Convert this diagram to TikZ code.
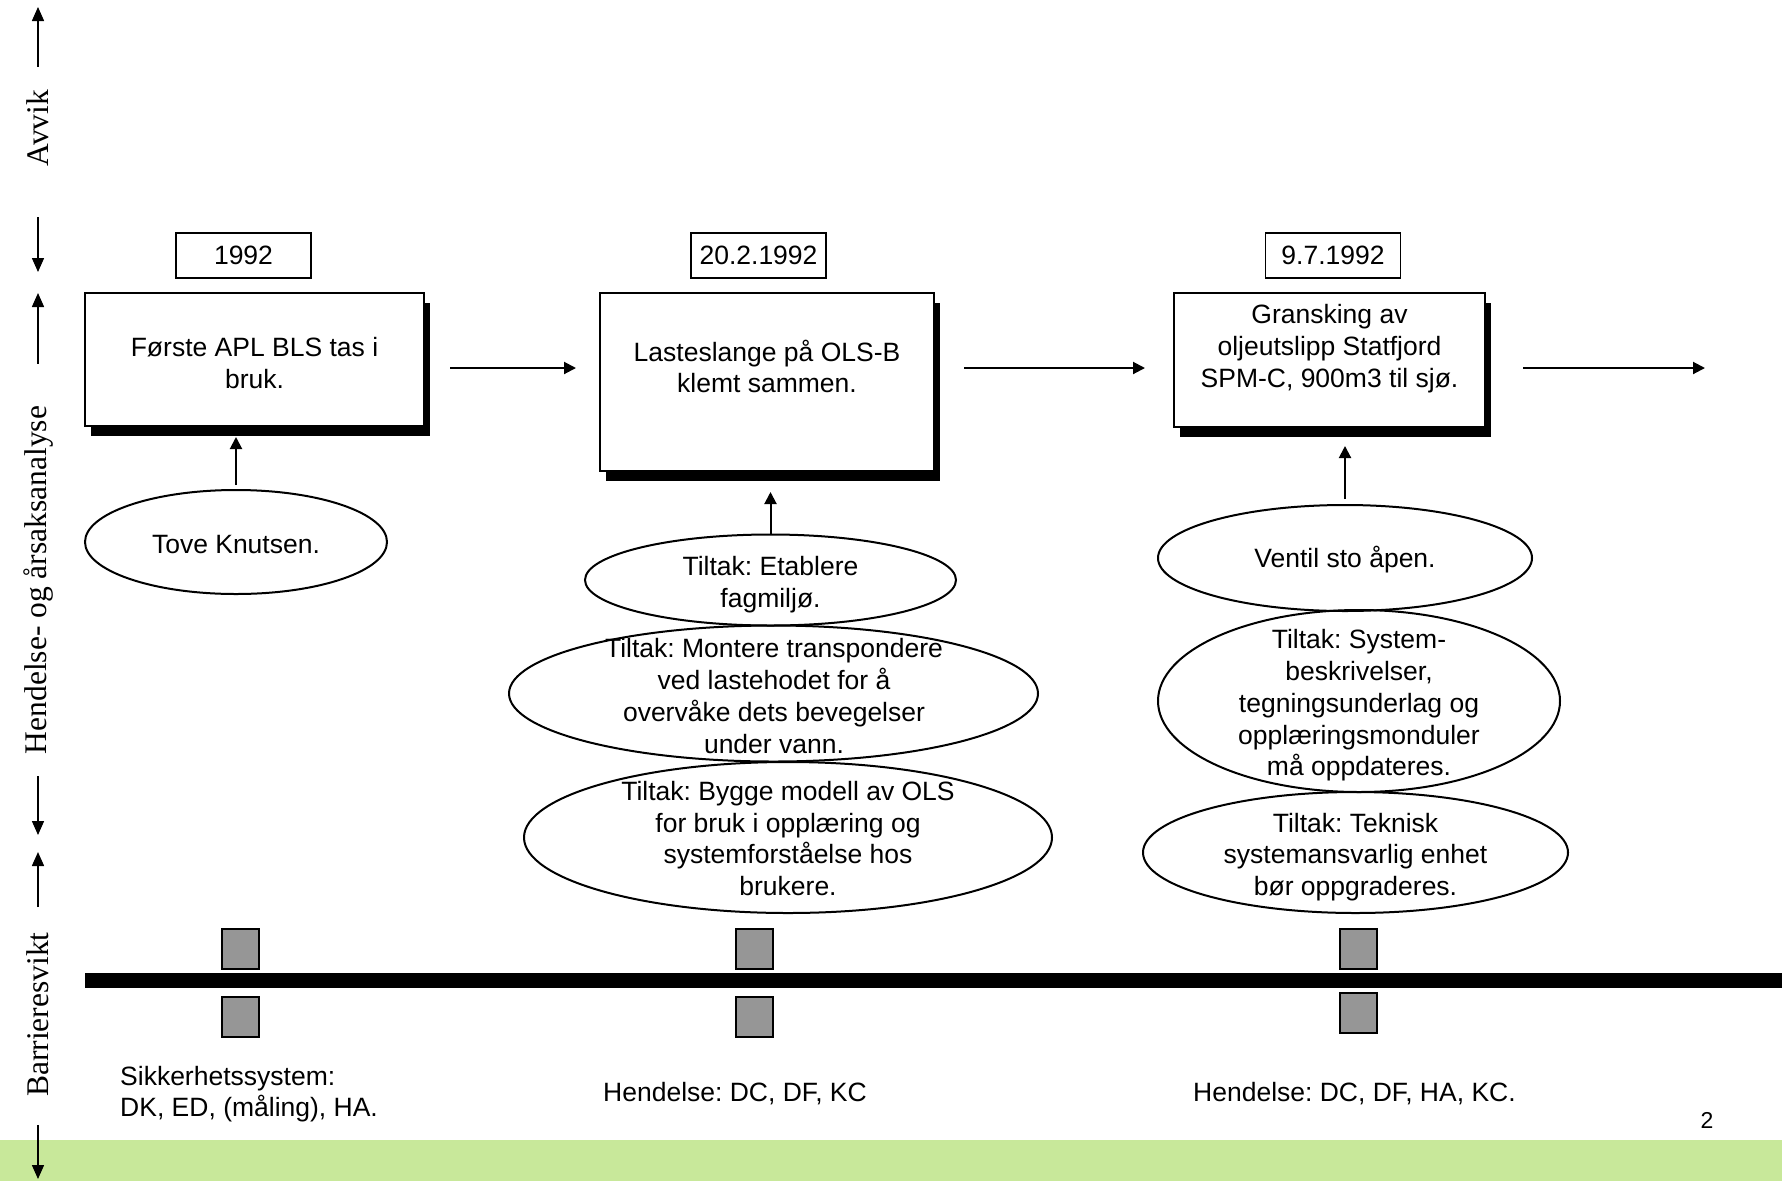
\documentclass[tikz,border=0pt]{standalone}
\usepackage{fontspec}
\setmainfont{Liberation Sans}
\newfontfamily\axisserif{Liberation Serif}
\usetikzlibrary{shapes.geometric, arrows.meta, shadows}

\definecolor{bandgreen}{RGB}{200,232,154}
\definecolor{barriergray}{RGB}{150,150,150}
\frenchspacing

\begin{document}
\begin{tikzpicture}[
    x=1pt, y=-1pt,
    txt/.style={font=\fontsize{26.5}{31.7}\selectfont, align=center, inner sep=0pt},
    datebox/.style={rectangle, draw, line width=1.8pt, minimum width=135pt, minimum height=45pt, font=\fontsize{26.5}{31.7}\selectfont},
    eventbox/.style={rectangle, draw, line width=2pt, fill=white, drop shadow={shadow xshift=6pt, shadow yshift=-10pt, fill=black, opacity=1}},
    cause/.style={ellipse, draw, line width=2pt, inner sep=0pt},
    barrier/.style={rectangle, draw, line width=2pt, fill=barriergray, minimum width=37pt, minimum height=40pt, inner sep=0pt},
    axislabel/.style={rotate=90, inner sep=0pt, font=\axisserif\fontsize{31.5}{36}\selectfont},
    arrow/.style={-{Triangle[length=12pt, width=12pt]}, line width=2pt},
    axisarrow/.style={-{Triangle[length=14pt, width=12pt]}, line width=1.5pt}
]
\useasboundingbox (0,0) rectangle (1782,1181);

% Green band
\fill[bandgreen] (0,1140) rectangle (1782,1181);

% Left axis
\node[axislabel] (avvik) at (38,128) {Avvik};
\node[axislabel] (analyse) at (38,580) {Hendelse- og årsaksanalyse};
\node[axislabel] (svikt) at (38,1014.5) {Barrieresvikt};
\coordinate (avvikTop) at (38,7);
\coordinate (avvikBot) at (38,272);
\coordinate (analyseTop) at (38,293);
\coordinate (analyseBot) at (38,835);
\coordinate (sviktTop) at (38,852);
\coordinate (sviktBot) at (38,1179);

\draw[axisarrow, shorten <=23pt] (avvik) -- (avvikTop);
\draw[axisarrow, shorten <=51pt] (avvik) -- (avvikBot);
\draw[axisarrow, shorten <=42pt] (analyse) -- (analyseTop);
\draw[axisarrow, shorten <=22pt] (analyse) -- (analyseBot);
\draw[axisarrow, shorten <=25pt] (svikt) -- (sviktTop);
\draw[axisarrow, shorten <=28pt] (svikt) -- (sviktBot);

% Dates
\node[datebox] (date1) at (243.5,255.5) {1992};
\node[datebox] (date2) at (758.5,255.5) {20.2.1992};
\node[datebox] (date3) at (1333,255.5) {9.7.1992};

% Events
\node[eventbox, minimum width=339pt, minimum height=133pt] (ev1) at (254.5,359.5) {};
\node[txt] (ev1txt) at (254.5,363) {Første APL BLS tas i\\bruk.};
\node[eventbox, minimum width=334pt, minimum height=178pt] (ev2) at (767,382) {};
\node[txt] (ev2txt) at (767,366.5) {Lasteslange på OLS-B\\klemt sammen.};
\node[eventbox, minimum width=311pt, minimum height=134pt] (ev3) at (1329.5,360) {};
\node[txt] (ev3txt) at (1329.5,348.5) {Gransking av\\oljeutslipp Statfjord\\SPM-C, 900m3 til sjø.};
\coordinate (next) at (1705,368);

\draw[arrow] ([xshift=25pt,yshift=-8.5pt]ev1.east) -- ([xshift=-23pt,yshift=14pt]ev2.west);
\draw[arrow] ([xshift=29pt,yshift=14pt]ev2.east) -- ([xshift=-28pt,yshift=-8pt]ev3.west);
\draw[arrow] ([xshift=37pt,yshift=-8pt]ev3.east) -- (next);

% Causes and measures
\node[cause, minimum width=302pt, minimum height=104pt] (c1) at (236,542) {};
\node[txt] (c1txt) at (236,544.5) {Tove Knutsen.};

\node[cause, minimum width=371pt, minimum height=91pt] (t21) at (770.5,580) {};
\node[txt] (t21txt) at (770.5,584.5) {Tiltak: Etablere\\fagmiljø.};
\node[cause, minimum width=529pt, minimum height=136pt] (t22) at (773.5,693.5) {};
\node[txt] (t22txt) at (774,696) {Tiltak: Montere transpondere\\ved lastehodet for å\\overvåke dets bevegelser\\under vann.};
\node[cause, minimum width=528pt, minimum height=151pt] (t23) at (788,837.5) {};
\node[txt] (t23txt) at (788,838.5) {Tiltak: Bygge modell av OLS\\for bruk i opplæring og\\systemforståelse hos\\brukere.};

\node[cause, minimum width=374pt, minimum height=106pt] (c3) at (1345,558) {};
\node[txt] (c3txt) at (1345,560) {Ventil sto åpen.};
\node[cause, minimum width=402pt, minimum height=182pt] (t31) at (1359,701) {};
\node[txt] (t31txt) at (1359,705.5) {Tiltak: System-\\beskrivelser,\\tegningsunderlag og\\opplæringsmonduler\\må oppdateres.};
\node[cause, minimum width=425pt, minimum height=121pt] (t32) at (1355.5,852.5) {};
\node[txt] (t32txt) at (1355.5,857) {Tiltak: Teknisk\\systemansvarlig enhet\\bør oppgraderes.};

\draw[arrow, shorten <=4pt, shorten >=10pt] (c1.north) -- (c1.north |- ev1.south);
\draw[arrow, shorten >=20pt] (t21.north) -- (t21.north |- ev2.south);
\draw[arrow, shorten <=5pt, shorten >=18pt] (c3.north) -- (c3.north |- ev3.south);

% Barrier line
\fill (85,973) rectangle (1782,988);
\node[barrier] (b1u) at (240,948.5) {};
\node[barrier] (b1l) at (240,1016.5) {};
\node[barrier] (b2u) at (754,948.5) {};
\node[barrier] (b2l) at (754,1016.5) {};
\node[barrier] (b3u) at (1358.5,948.5) {};
\node[barrier] (b3l) at (1358.5,1012.5) {};

% Barrier texts
\node[txt, anchor=west, align=left] (s1) at (120,1094) {Sikkerhetssystem:\\DK, ED, (måling), HA.};
\node[txt, anchor=west] (s2) at (603,1094) {Hendelse: DC, DF, KC};
\node[txt, anchor=west] (s3) at (1193,1094) {Hendelse: DC, DF, HA, KC.};
\node[txt, font=\fontsize{23}{27}\selectfont] (page) at (1707,1120) {2};

\end{tikzpicture}
\end{document}
